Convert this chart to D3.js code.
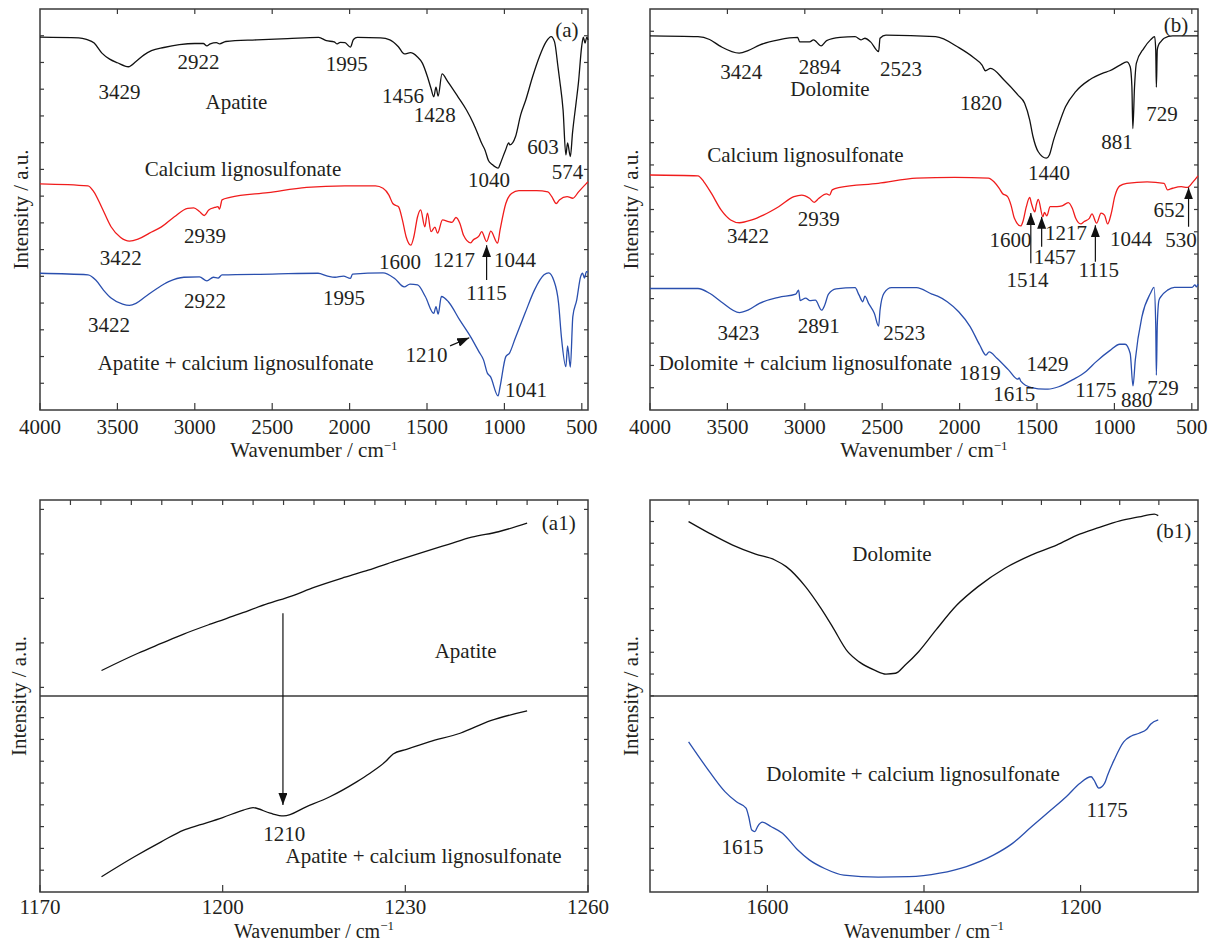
<!DOCTYPE html>
<html>
<head>
<meta charset="utf-8">
<script src="https://cdn.jsdelivr.net/npm/d3@7"></script>
<style>
  body { margin: 0; background: #fff; }
  svg text { font-family: "Liberation Serif", "Times New Roman", Times, serif; }
  .lbl { font-size: 21px; fill: #231f20; }
  .frame { fill: none; stroke: #3a3a3a; stroke-width: 1.5px; }
  .tick { stroke: #3a3a3a; stroke-width: 1.2px; }
  .curve { fill: none; stroke-width: 1.3px; stroke-linejoin: round; }
</style>
</head>
<body>
<svg id="chart" width="1210" height="942" font-family="Liberation Serif, Times New Roman, serif"></svg>
<script>
// spectra: [wavenumber, intensity (a.u., 0-100 inside each panel)]
const apatite = [[4000,93.0],[3750,92.8],[3700,92.4],[3650,91.5],[3600,89.0],[3550,87.5],[3500,86.6],[3429,85.6],[3380,86.9],[3330,88.5],[3280,89.6],[3200,90.4],[3100,91.1],[3000,91.4],[2945,91.4],[2922,90.8],[2900,91.3],[2860,91.6],[2840,91.3],[2800,91.9],[2600,92.3],[2400,92.6],[2200,92.9],[2150,92.1],[2100,91.8],[2080,91.3],[2060,91.7],[2030,91.6],[1995,90.5],[1975,92.4],[1950,92.9],[1800,92.8],[1740,92.3],[1685,90.6],[1646,88.8],[1607,89.1],[1563,88.1],[1530,86.5],[1497,83.1],[1475,80.3],[1456,78.1],[1442,80.5],[1428,78.3],[1403,83.8],[1366,81.9],[1300,78.1],[1245,74.8],[1201,71.5],[1169,68.6],[1147,66.5],[1125,64.8],[1103,62.2],[1081,61.3],[1040,60.3],[1026,61.5],[993,64.8],[972,66.6],[965,66.1],[928,68.2],[895,73.6],[862,77.3],[818,83.1],[774,88.1],[731,91.8],[698,93.1],[676,91.8],[654,85.6],[643,82.3],[621,74.8],[603,63.6],[592,66.6],[574,63.2],[560,69.1],[537,76.6],[522,81.5],[501,90.6],[490,93.0],[479,91.5],[468,93.0],[460,92.3]];

const lignoA = [[4000,56.4],[3690,55.9],[3652,54.4],[3603,50.7],[3541,45.7],[3479,43.0],[3422,42.1],[3367,42.6],[3293,44.1],[3218,45.6],[3132,48.2],[3046,50.3],[3007,50.4],[2970,49.5],[2939,48.5],[2910,49.9],[2872,50.5],[2850,50.7],[2840,50.1],[2824,52.4],[2773,53.0],[2527,54.2],[2278,55.5],[2031,55.9],[1833,55.9],[1784,55.3],[1746,53.6],[1721,51.5],[1700,51.0],[1684,50.7],[1659,47.4],[1635,43.2],[1605,41.1],[1585,43.2],[1561,48.2],[1541,49.9],[1514,45.7],[1497,49.1],[1474,44.5],[1449,45.6],[1432,44.1],[1400,47.4],[1362,47.0],[1338,46.8],[1313,48.0],[1288,46.6],[1264,43.6],[1217,41.7],[1202,42.4],[1164,43.4],[1147,44.5],[1115,42.0],[1088,44.6],[1044,41.6],[1028,44.9],[991,51.5],[954,54.0],[906,54.7],[793,54.7],[719,54.4],[694,53.2],[665,51.5],[645,52.4],[595,53.2],[558,52.8],[521,54.4],[473,56.4],[460,56.9]];

const apatiteLigno = [[4000,34.1],[3690,33.7],[3640,32.4],[3590,29.9],[3541,27.9],[3466,26.4],[3422,26.1],[3380,26.6],[3318,28.3],[3244,30.3],[3169,32.0],[3070,33.1],[2970,33.2],[2922,32.2],[2880,33.1],[2850,32.9],[2824,33.7],[2500,33.9],[2204,34.1],[2142,33.4],[2094,33.1],[2040,33.4],[1995,32.8],[1981,33.9],[1784,34.2],[1709,32.8],[1647,30.7],[1610,31.4],[1561,31.2],[1511,28.3],[1456,24.1],[1442,25.8],[1428,23.9],[1407,28.3],[1362,27.0],[1288,22.4],[1219,18.3],[1164,14.5],[1135,12.5],[1110,9.2],[1090,8.3],[1041,3.5],[1028,5.8],[991,13.3],[967,14.2],[930,17.9],[867,24.1],[806,29.9],[744,33.7],[714,34.2],[682,32.4],[650,26.6],[632,18.3],[603,10.8],[592,16.0],[574,10.7],[558,23.3],[533,27.4],[508,33.2],[495,34.1],[483,32.9],[470,34.5],[460,34.4]];

const dolomite = [[4000,93.3],[3690,93.1],[3615,92.4],[3541,90.6],[3424,89.0],[3367,89.6],[3293,91.0],[3169,92.3],[3046,92.9],[3033,91.8],[2969,91.8],[2944,92.3],[2894,90.8],[2859,92.1],[2773,92.9],[2675,93.1],[2637,92.3],[2620,92.6],[2612,92.7],[2575,91.8],[2523,89.4],[2514,92.7],[2476,93.5],[2155,93.1],[2002,90.3],[1910,87.9],[1855,86.0],[1833,84.6],[1800,85.2],[1713,82.3],[1624,78.6],[1580,76.5],[1547,72.3],[1526,68.2],[1492,64.4],[1440,62.8],[1420,63.6],[1393,67.3],[1360,71.1],[1316,75.6],[1250,79.4],[1162,82.3],[1074,84.0],[1030,84.6],[964,86.0],[920,86.8],[898,85.6],[887,80.6],[881,70.2],[870,80.6],[858,86.5],[810,90.2],[767,92.3],[740,93.1],[733,89.8],[729,80.5],[723,89.8],[715,91.0],[701,91.8],[679,92.7],[624,93.3],[460,93.3]];

const lignoB = [[4000,58.6],[3690,58.4],[3652,56.9],[3603,54.0],[3541,49.9],[3479,47.4],[3422,46.7],[3342,47.4],[3268,48.6],[3169,50.7],[3070,53.2],[3020,53.6],[2970,52.8],[2939,51.8],[2909,52.8],[2859,53.9],[2840,53.6],[2823,54.9],[2773,55.5],[2526,56.5],[2278,57.8],[2032,58.0],[1814,57.8],[1778,56.9],[1745,55.3],[1723,54.0],[1690,53.2],[1668,51.1],[1646,47.8],[1605,45.9],[1591,47.0],[1569,50.7],[1547,53.0],[1536,51.5],[1514,49.4],[1505,51.1],[1492,52.5],[1462,48.2],[1452,49.3],[1437,48.4],[1415,50.7],[1371,50.7],[1338,50.9],[1298,51.7],[1272,50.3],[1250,47.8],[1217,46.4],[1195,47.0],[1162,47.8],[1145,48.9],[1115,46.6],[1086,49.1],[1064,48.6],[1044,46.4],[1020,49.1],[998,53.2],[965,55.9],[920,56.5],[789,56.9],[679,56.5],[657,54.9],[624,55.3],[568,55.7],[530,55.5],[492,56.9],[460,58.4]];

const dolomiteLigno = [[4000,30.3],[3690,30.3],[3615,29.1],[3541,27.0],[3423,24.3],[3367,24.9],[3293,26.6],[3169,28.1],[3058,28.9],[3040,29.9],[3030,27.3],[2994,27.9],[2969,27.3],[2932,27.4],[2891,24.9],[2871,26.2],[2847,28.9],[2798,30.2],[2675,30.5],[2650,28.7],[2625,27.0],[2612,28.4],[2588,26.6],[2551,24.1],[2523,20.9],[2514,24.9],[2489,29.1],[2440,30.5],[2278,30.5],[2179,28.9],[2142,28.4],[2080,27.0],[2006,24.5],[1932,20.8],[1870,16.2],[1830,13.7],[1809,14.5],[1759,12.9],[1684,10.0],[1624,7.7],[1615,8.0],[1605,7.2],[1536,5.6],[1448,5.2],[1429,5.2],[1360,5.8],[1272,7.5],[1184,9.6],[1175,9.9],[1119,12.0],[1030,14.8],[965,16.4],[931,16.4],[898,14.1],[880,6.0],[865,12.5],[822,23.3],[767,29.1],[744,30.6],[733,21.2],[729,8.7],[723,21.2],[712,27.4],[697,28.4],[657,29.9],[612,30.6],[498,30.6],[480,31.2],[470,30.7],[460,31.4]];

const apatiteZoom = [[1180.1,56.5],[1186.1,60.9],[1189.9,63.4],[1193.6,65.8],[1198.1,68.4],[1202.5,70.8],[1207.5,73.6],[1211.3,75.5],[1215,77.7],[1220.1,80.3],[1223.9,82.1],[1228.3,84.4],[1232.7,86.6],[1237.1,88.7],[1240.9,90.5],[1245.3,91.9],[1250,94.1]];

const apatiteLignoZoom = [[1180.1,3.9],[1185.5,9.0],[1189.9,12.8],[1193.6,15.8],[1196.2,17.1],[1200,19.0],[1203.4,20.9],[1205,21.5],[1207.8,20.1],[1210,19.4],[1213.8,21.8],[1217.6,24.3],[1222,28.1],[1224.2,30.3],[1226.7,33.2],[1228,35.2],[1230.2,36.4],[1233.9,38.3],[1239,40.5],[1244,43.7],[1250,46.2]];

const dolomiteZoom = [[1700.7,94.5],[1673.9,91.5],[1644.4,88.5],[1615.1,86.2],[1590.6,84.7],[1576,83.0],[1551.4,77.9],[1531.8,72.4],[1517,67.7],[1497.5,61.3],[1482.8,58.7],[1463.2,56.6],[1448.6,55.6],[1436.4,55.8],[1424,57.9],[1406.9,61.3],[1384.9,66.8],[1358,73.2],[1331,77.9],[1296.7,82.6],[1262.4,86.0],[1230.6,88.5],[1201.2,91.3],[1179.2,92.8],[1149.8,94.7],[1125.3,95.7],[1105.8,96.4],[1100.8,96.0]];

const dolomiteLignoZoom = [[1700.7,38.3],[1678.7,32.0],[1654.3,25.6],[1639.6,23.0],[1627.3,21.4],[1623.9,19.2],[1620,15.8],[1616,15.4],[1612.6,16.7],[1606.3,17.8],[1595.5,16.7],[1580.8,15.0],[1561.2,10.7],[1546.5,8.2],[1526.9,6.0],[1502.4,4.3],[1458.4,3.8],[1419.2,3.9],[1380,4.8],[1345.8,6.5],[1311.4,9.4],[1286.9,12.4],[1262.4,16.7],[1237.9,20.9],[1218.3,24.3],[1201.2,27.7],[1186.5,29.4],[1183,28.6],[1176.7,26.5],[1169.4,27.7],[1165.5,29.8],[1157.1,33.7],[1144.9,38.3],[1135.1,39.8],[1125.3,40.5],[1115.5,41.5],[1110.6,42.8],[1100.8,43.9]];

// tick labels
const wideTicks = [4000, 3500, 3000, 2500, 2000, 1500, 1000, 500];
const a1Ticks = [1170, 1200, 1230, 1260];
const a1TopTicks = d3.range(1175, 1260, 5);
const b1Ticks = [1600, 1400, 1200];
const b1TopTicks = d3.range(1700, 1050, -50);

// annotations: [text, wavenumber, intensity]
const labelsA = [["3429",3486,79.4],["2922",2976,86.8],["1995",2019,86.3],["Apatite",2731,76.9],["1456",1655,78.4],["1428",1450,73.6],["1040",1100,57.4],["603",751,65.6],["574",592,59.4],["(a)",596,94.8],["Calcium lignosulfonate",2689,60.3],["3422",3479,37.9],["2939",2934,43.6],["1600",1674,37.0],["1217",1326,37.4],["1044",932,37.4],["1115",1116,29.3],["3422",3554,21.2],["2922",2934,27.3],["1995",2036,27.9],["1210",1504,13.9],["1041",860,5.0],["Apatite + calcium lignosulfonate",2736,11.9]];
const arrowsA = [[1115,32.4,1115,41.1],[1351,16.0,1227,18.0]];

const labelsB = [["3424",3410,84.4],["2894",2904,85.6],["2523",2379,85.2],["Dolomite",2837,80.2],["1820",1862,76.7],["1440",1422,59.2],["881",983,66.8],["729",692,74.0],["(b)",602,96.0],["Calcium lignosulfonate",2996,63.6],["3422",3367,43.6],["2939",2910,47.8],["1600",1672,42.4],["1514",1562,32.6],["1457",1385,38.3],["1217",1313,44.3],["1115",1101,34.9],["1044",893,42.8],["652",646,50.0],["530",570,42.4],["3423",3429,19.4],["2891",2910,21.0],["2523",2357,19.4],["Dolomite + calcium lignosulfonate",2996,11.9],["1819",1870,9.2],["1429",1433,11.5],["1615",1647,4.1],["1175",1119,5.0],["880",855,2.6],["729",686,5.6]];
const arrowsB = [[1540,36.6,1540,49.1],[1470,40.7,1470,48.2],[1123,37.0,1123,46.1],[521,45.7,521,55.5]];

const labelsA1 = [["(a1)",1255.2,94.1],["Apatite",1239.9,61.6],["1210",1210.1,15.0],["Apatite + calcium lignosulfonate",1233,9.2]];
const arrowsA1 = [[1209.9,71.1,1209.9,22.2]];

const labelsB1 = [["(b1)",1081,92.3],["Dolomite",1441,86.4],["Dolomite + calcium lignosulfonate",1414,30.1],["1615",1632,11.6],["1175",1166,20.9]];

const BLACK = "#111", RED = "#f01c1c", BLUE = "#2a4fae";

const svg = d3.select("#chart");

svg.append("defs").append("marker")
    .attr("id", "head")
    .attr("markerUnits", "userSpaceOnUse")
    .attr("markerWidth", 13).attr("markerHeight", 9)
    .attr("refX", 12).attr("refY", 4.5)
    .attr("orient", "auto")
  .append("path")
    .attr("d", "M0,0 L12,4.5 L0,9 Z")
    .attr("fill", "#111");

function drawPanel(cfg) {
  let x = d3.scaleLinear().domain(cfg.domain).range([cfg.left, cfg.right]);
  let y = d3.scaleLinear().domain([0, 100]).range([cfg.bottom, cfg.top]);
  let g = svg.append("g");

  // y ticks on both sides, pointing inwards
  cfg.yTicks.forEach(v => {
    g.append("line").attr("class", "tick")
      .attr("x1", cfg.left).attr("x2", cfg.left + 4).attr("y1", y(v)).attr("y2", y(v));
    g.append("line").attr("class", "tick")
      .attr("x1", cfg.right).attr("x2", cfg.right - 4).attr("y1", y(v)).attr("y2", y(v));
  });
  cfg.xTicks.forEach(v => {
    g.append("line").attr("class", "tick")
      .attr("x1", x(v)).attr("x2", x(v)).attr("y1", cfg.bottom).attr("y2", cfg.bottom - 7);
  });
  cfg.topTicks.forEach(v => {
    g.append("line").attr("class", "tick")
      .attr("x1", x(v)).attr("x2", x(v)).attr("y1", cfg.top).attr("y2", cfg.top + 5);
  });

  g.append("rect").attr("class", "frame")
    .attr("x", cfg.left).attr("y", cfg.top)
    .attr("width", cfg.right - cfg.left).attr("height", cfg.bottom - cfg.top);

  if (cfg.divider) {
    g.append("line").attr("class", "frame")
      .attr("x1", cfg.left).attr("x2", cfg.right)
      .attr("y1", y(cfg.divider)).attr("y2", y(cfg.divider));
  }

  g.selectAll(".xl").data(cfg.xTicks).enter().append("text")
    .attr("class", "lbl")
    .attr("x", d => x(d)).attr("y", cfg.bottom + cfg.tickGap).attr("dy", "0.35em")
    .attr("text-anchor", "middle")
    .text(d => d);

  let xt = g.append("text").attr("class", "lbl")
    .attr("x", (cfg.left + cfg.right) / 2).attr("y", cfg.bottom + cfg.xLabelGap).attr("dy", "0.35em")
    .attr("text-anchor", "middle")
    .style("font-size", cfg.xLabelSize + "px");
  xt.append("tspan").text("Wavenumber / cm");
  xt.append("tspan").attr("font-size", "13px").attr("dy", "-0.6em").text("\u22121");

  g.append("text").attr("class", "lbl")
    .attr("transform", `translate(${cfg.yLabelX},${(cfg.top + cfg.bottom) / 2}) rotate(-90)`)
    .attr("dy", "0.35em").attr("text-anchor", "middle")
    .text("Intensity / a.u.");

  let line = d3.line()
    .x(d => x(d[0])).y(d => y(d[1]))
    .curve(d3.curveMonotoneX);

  cfg.series.forEach(s => {
    g.append("path").attr("class", "curve")
      .attr("stroke", s.color)
      .attr("d", line(s.data));
  });

  (cfg.arrows || []).forEach(a => {
    g.append("line")
      .attr("x1", x(a[0])).attr("y1", y(a[1]))
      .attr("x2", x(a[2])).attr("y2", y(a[3]))
      .attr("stroke", "#111").attr("stroke-width", 1.2)
      .attr("marker-end", "url(#head)");
  });

  g.selectAll(".ann").data(cfg.labels).enter().append("text")
    .attr("class", "lbl")
    .attr("x", d => x(d[1])).attr("y", d => y(d[2])).attr("dy", "0.35em")
    .attr("text-anchor", "middle")
    .text(d => d[0]);
}

drawPanel({
  left: 40, right: 588, top: 9, bottom: 410, domain: [4000, 460],
  yTicks: d3.range(1, 15).map(k => k * 100 / 15),
  xTicks: wideTicks, topTicks: wideTicks.slice(1), yLabelX: 21,
  tickGap: 17, xLabelGap: 40, xLabelSize: 21,
  series: [{data: apatite, color: BLACK}, {data: lignoA, color: RED}, {data: apatiteLigno, color: BLUE}],
  labels: labelsA, arrows: arrowsA
});

drawPanel({
  left: 650, right: 1198, top: 9, bottom: 410, domain: [4000, 460],
  yTicks: d3.range(1, 18).map(k => k * 100 / 18),
  xTicks: wideTicks, topTicks: wideTicks.slice(1), yLabelX: 631,
  tickGap: 17, xLabelGap: 40, xLabelSize: 21,
  series: [{data: dolomite, color: BLACK}, {data: lignoB, color: RED}, {data: dolomiteLigno, color: BLUE}],
  labels: labelsB, arrows: arrowsB
});

drawPanel({
  left: 40, right: 588, top: 500, bottom: 892, domain: [1170, 1260],
  yTicks: d3.range(1, 9).map(k => k * 5.56).concat(d3.range(0, 5).map(k => 52.2 + k * 11.35)),
  xTicks: a1Ticks, topTicks: a1TopTicks, yLabelX: 19, divider: 50,
  tickGap: 15, xLabelGap: 39, xLabelSize: 20,
  series: [{data: apatiteZoom, color: BLACK}, {data: apatiteLignoZoom, color: BLACK}],
  labels: labelsA1, arrows: arrowsA1
});

drawPanel({
  left: 650, right: 1198, top: 500, bottom: 892, domain: [1750, 1050],
  yTicks: d3.range(1, 18).map(k => k * 5.56),
  xTicks: b1Ticks, topTicks: b1TopTicks, yLabelX: 631, divider: 50,
  tickGap: 15, xLabelGap: 39, xLabelSize: 20,
  series: [{data: dolomiteZoom, color: BLACK}, {data: dolomiteLignoZoom, color: BLUE}],
  labels: labelsB1
});
</script>
</body>
</html>
